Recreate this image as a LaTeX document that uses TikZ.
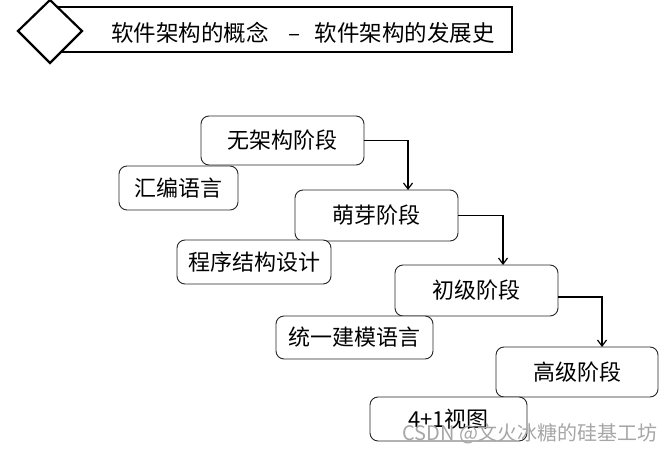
\documentclass[tikz,border=0pt]{standalone}
\usepackage{fontspec}
\setmainfont{Noto Sans CJK SC}
\usetikzlibrary{arrows.meta}
\begin{document}
\begin{tikzpicture}[x=1pt,y=-1pt,
  box/.style={draw=black!85,line width=0.9pt,rounded corners=8pt,fill=white,
    inner sep=0pt,font=\fontsize{22}{25}\selectfont},
  arr/.style={line width=1.4pt,-{Straight Barb[length=6pt,width=9pt,line width=1.2pt]}}
]
\useasboundingbox (0,0) rectangle (669,452);
% header
\node[draw,line width=1.2pt,minimum width=462pt,minimum height=45pt,inner sep=0pt] (hdr) at (281,29.5) {};
\node[anchor=west,inner sep=0pt,font=\fontsize{22.5}{26}\selectfont] (title) at (111,33)
  {软件架构的概念\hspace{20pt}–\hspace{14pt}软件架构的发展史};
\draw[line width=2.2pt,fill=white,line join=miter] (18,31) -- (50,0) -- (82,31) -- (50,63) -- cycle;
% boxes
\node[box,minimum width=163pt,minimum height=49pt] (b1) at (282.5,140.5) {无架构阶段};
\node[box,minimum width=119pt,minimum height=44pt] (b2) at (178.5,188) {汇编语言};
\node[box,minimum width=163pt,minimum height=51pt] (b3) at (376.5,215.5) {萌芽阶段};
\node[box,minimum width=154pt,minimum height=44pt] (b4) at (254,262) {程序结构设计};
\node[box,minimum width=163pt,minimum height=51pt] (b5) at (476.5,290.5) {初级阶段};
\node[box,minimum width=157pt,minimum height=43pt] (b6) at (354.5,337.5) {统一建模语言};
\node[box,minimum width=162pt,minimum height=50pt] (b7) at (577,372) {高级阶段};
\node[box,minimum width=157pt,minimum height=44pt] (b8) at (448.5,419) {4+1视图};
% arrows
\coordinate (t1) at (408,190);
\coordinate (t2) at (503,265);
\coordinate (t3) at (602,347);
\coordinate (s3) at (558,297);
\draw[arr] (b1.east) -| (t1);
\draw[arr] (b3.east) -| (t2);
\draw[arr] (s3) -| (t3);
% watermark
\node[anchor=west,inner sep=0pt,text=black!35,font=\fontsize{20}{23}\selectfont] (wm) at (402,434) {CSDN @文火冰糖的硅基工坊};
\end{tikzpicture}
\end{document}
